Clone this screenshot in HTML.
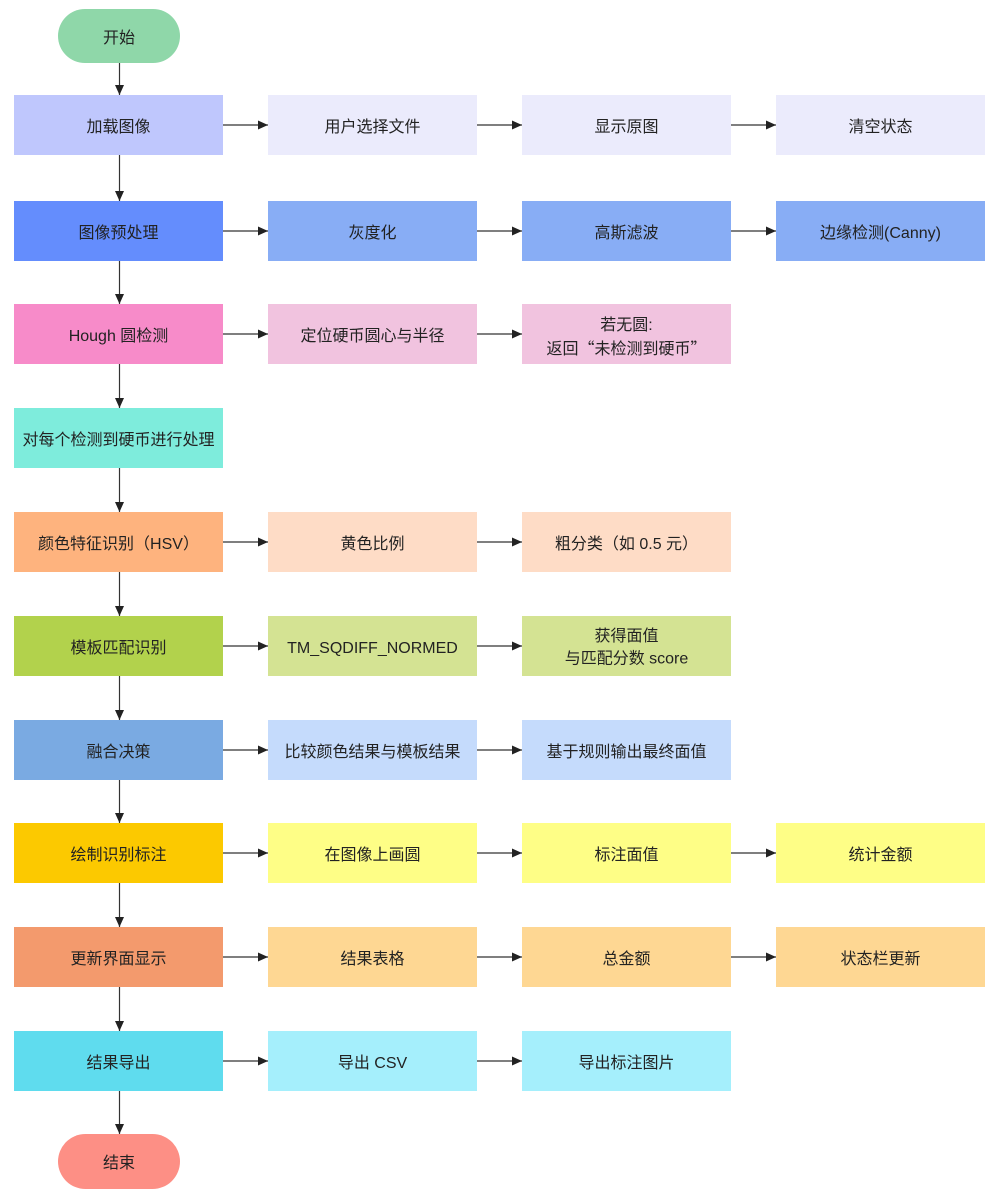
<!DOCTYPE html>
<html><head><meta charset="utf-8"><style>
html,body{margin:0;padding:0;background:#fff;}
svg{display:block;}
text{font-family:"Liberation Sans","Noto Sans CJK SC",sans-serif;font-size:16px;fill:#222;text-anchor:middle;dominant-baseline:central;}
text.cjk{font-family:"Noto Sans CJK SC","Liberation Sans",sans-serif;}
</style></head><body>
<svg width="1000" height="1200" viewBox="0 0 1000 1200" xmlns="http://www.w3.org/2000/svg">
<defs>
<marker id="a" markerWidth="11" markerHeight="10" refX="10" refY="4.5" orient="auto" markerUnits="userSpaceOnUse">
<path d="M0,0 L10,4.5 L0,9 Z" fill="#222"/>
</marker>
</defs>
<g stroke="#333" stroke-width="1.2" fill="none">
<line x1="119.5" y1="63" x2="119.5" y2="95" marker-end="url(#a)"/>
<line x1="119.5" y1="155" x2="119.5" y2="201" marker-end="url(#a)"/>
<line x1="119.5" y1="261" x2="119.5" y2="304" marker-end="url(#a)"/>
<line x1="119.5" y1="364" x2="119.5" y2="408" marker-end="url(#a)"/>
<line x1="119.5" y1="468" x2="119.5" y2="512" marker-end="url(#a)"/>
<line x1="119.5" y1="572" x2="119.5" y2="616" marker-end="url(#a)"/>
<line x1="119.5" y1="676" x2="119.5" y2="720" marker-end="url(#a)"/>
<line x1="119.5" y1="780" x2="119.5" y2="823" marker-end="url(#a)"/>
<line x1="119.5" y1="883" x2="119.5" y2="927" marker-end="url(#a)"/>
<line x1="119.5" y1="987" x2="119.5" y2="1031" marker-end="url(#a)"/>
<line x1="119.5" y1="1091" x2="119.5" y2="1134" marker-end="url(#a)"/>
<line x1="223" y1="125" x2="268" y2="125" marker-end="url(#a)"/>
<line x1="477" y1="125" x2="522" y2="125" marker-end="url(#a)"/>
<line x1="731" y1="125" x2="776" y2="125" marker-end="url(#a)"/>
<line x1="223" y1="231" x2="268" y2="231" marker-end="url(#a)"/>
<line x1="477" y1="231" x2="522" y2="231" marker-end="url(#a)"/>
<line x1="731" y1="231" x2="776" y2="231" marker-end="url(#a)"/>
<line x1="223" y1="334" x2="268" y2="334" marker-end="url(#a)"/>
<line x1="477" y1="334" x2="522" y2="334" marker-end="url(#a)"/>
<line x1="223" y1="542" x2="268" y2="542" marker-end="url(#a)"/>
<line x1="477" y1="542" x2="522" y2="542" marker-end="url(#a)"/>
<line x1="223" y1="646" x2="268" y2="646" marker-end="url(#a)"/>
<line x1="477" y1="646" x2="522" y2="646" marker-end="url(#a)"/>
<line x1="223" y1="750" x2="268" y2="750" marker-end="url(#a)"/>
<line x1="477" y1="750" x2="522" y2="750" marker-end="url(#a)"/>
<line x1="223" y1="853" x2="268" y2="853" marker-end="url(#a)"/>
<line x1="477" y1="853" x2="522" y2="853" marker-end="url(#a)"/>
<line x1="731" y1="853" x2="776" y2="853" marker-end="url(#a)"/>
<line x1="223" y1="957" x2="268" y2="957" marker-end="url(#a)"/>
<line x1="477" y1="957" x2="522" y2="957" marker-end="url(#a)"/>
<line x1="731" y1="957" x2="776" y2="957" marker-end="url(#a)"/>
<line x1="223" y1="1061" x2="268" y2="1061" marker-end="url(#a)"/>
<line x1="477" y1="1061" x2="522" y2="1061" marker-end="url(#a)"/>
</g>

<rect x="58" y="9" width="122" height="54" rx="27" fill="#8fd7a9"/>
<text x="119" y="38.5">开始</text>
<rect x="58" y="1134" width="122" height="55" rx="27.5" fill="#fd8f85"/>
<text x="119" y="1163.5">结束</text>

<rect x="14" y="95" width="209" height="60" fill="#bfc7fd"/>
<text x="118.5" y="127.5">加载图像</text>
<rect x="268" y="95" width="209" height="60" fill="#ebebfc"/>
<text x="372.5" y="127.5">用户选择文件</text>
<rect x="522" y="95" width="209" height="60" fill="#ebebfc"/>
<text x="626.5" y="127.5">显示原图</text>
<rect x="776" y="95" width="209" height="60" fill="#ebebfc"/>
<text x="880.5" y="127.5">清空状态</text>

<rect x="14" y="201" width="209" height="60" fill="#648dfd"/>
<text x="118.5" y="233.5">图像预处理</text>
<rect x="268" y="201" width="209" height="60" fill="#88adf5"/>
<text x="372.5" y="233.5">灰度化</text>
<rect x="522" y="201" width="209" height="60" fill="#88adf5"/>
<text x="626.5" y="233.5">高斯滤波</text>
<rect x="776" y="201" width="209" height="60" fill="#88adf5"/>
<text x="880.5" y="233.5">边缘检测(Canny)</text>

<rect x="14" y="304" width="209" height="60" fill="#f78bc9"/>
<text x="118.5" y="336.5">Hough 圆检测</text>
<rect x="268" y="304" width="209" height="60" fill="#f1c3df"/>
<text x="372.5" y="336.5">定位硬币圆心与半径</text>
<rect x="522" y="304" width="209" height="60" fill="#f1c3df"/>
<text x="626.5" y="325.5">若无圆:</text>
<text class="cjk" x="626.5" y="347">返回“未检测到硬币”</text>

<rect x="14" y="408" width="209" height="60" fill="#7eecdc"/>
<text x="118.5" y="440.5">对每个检测到硬币进行处理</text>

<rect x="14" y="512" width="209" height="60" fill="#feb37e"/>
<text x="118.5" y="544.5">颜色特征识别（HSV）</text>
<rect x="268" y="512" width="209" height="60" fill="#fedcc6"/>
<text x="372.5" y="544.5">黄色比例</text>
<rect x="522" y="512" width="209" height="60" fill="#fedcc6"/>
<text x="626.5" y="544.5">粗分类（如 0.5 元）</text>

<rect x="14" y="616" width="209" height="60" fill="#b2d24c"/>
<text x="118.5" y="648.5">模板匹配识别</text>
<rect x="268" y="616" width="209" height="60" fill="#d4e393"/>
<text x="372.5" y="648.5">TM_SQDIFF_NORMED</text>
<rect x="522" y="616" width="209" height="60" fill="#d4e393"/>
<text x="626.5" y="636.5">获得面值</text>
<text x="626.5" y="659">与匹配分数 score</text>

<rect x="14" y="720" width="209" height="60" fill="#7aaae2"/>
<text x="118.5" y="752.5">融合决策</text>
<rect x="268" y="720" width="209" height="60" fill="#c5dbfc"/>
<text x="372.5" y="752.5">比较颜色结果与模板结果</text>
<rect x="522" y="720" width="209" height="60" fill="#c5dbfc"/>
<text x="626.5" y="752.5">基于规则输出最终面值</text>

<rect x="14" y="823" width="209" height="60" fill="#fcc900"/>
<text x="118.5" y="855.5">绘制识别标注</text>
<rect x="268" y="823" width="209" height="60" fill="#fefe86"/>
<text x="372.5" y="855.5">在图像上画圆</text>
<rect x="522" y="823" width="209" height="60" fill="#fefe86"/>
<text x="626.5" y="855.5">标注面值</text>
<rect x="776" y="823" width="209" height="60" fill="#fefe86"/>
<text x="880.5" y="855.5">统计金额</text>

<rect x="14" y="927" width="209" height="60" fill="#f39a6d"/>
<text x="118.5" y="959.5">更新界面显示</text>
<rect x="268" y="927" width="209" height="60" fill="#fed793"/>
<text x="372.5" y="959.5">结果表格</text>
<rect x="522" y="927" width="209" height="60" fill="#fed793"/>
<text x="626.5" y="959.5">总金额</text>
<rect x="776" y="927" width="209" height="60" fill="#fed793"/>
<text x="880.5" y="959.5">状态栏更新</text>

<rect x="14" y="1031" width="209" height="60" fill="#5fdcee"/>
<text x="118.5" y="1063.5">结果导出</text>
<rect x="268" y="1031" width="209" height="60" fill="#a5effc"/>
<text x="372.5" y="1063.5">导出 CSV</text>
<rect x="522" y="1031" width="209" height="60" fill="#a5effc"/>
<text x="626.5" y="1063.5">导出标注图片</text>
</svg>
</body></html>
